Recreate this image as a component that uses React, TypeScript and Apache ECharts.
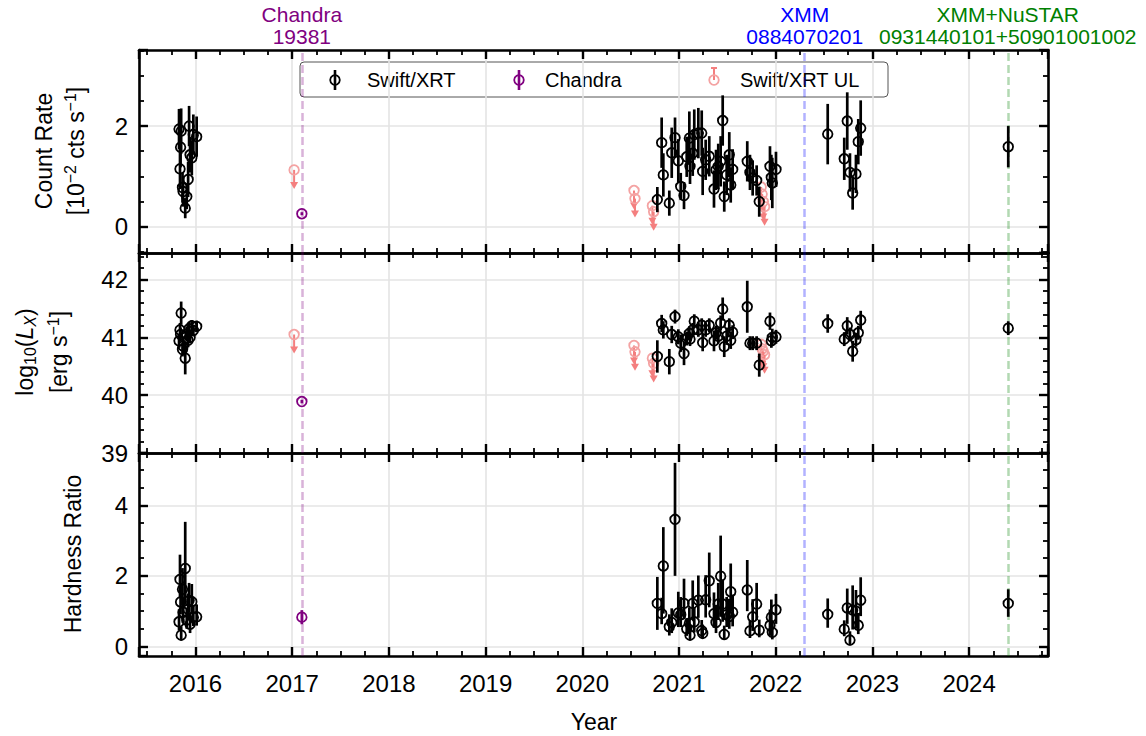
import React, { useEffect, useRef } from 'react';
import * as echarts from 'echarts';

const FONT = "'Liberation Sans', Arial, Helvetica, sans-serif";

// Time axis limits (decimal year)
const X_MIN = 2015.416;
const X_MAX = 2024.816;

// ---- Swift/XRT detections ----
const xrtTime = [
  2015.830, 2015.840, 2015.846, 2015.852, 2015.866, 2015.872, 2015.894, 2015.910, 2015.924, 2015.934,
  2015.944, 2015.962, 2015.978, 2016.012,
  2020.776, 2020.821, 2020.838, 2020.900, 2020.925, 2020.959, 2020.993, 2021.018, 2021.052, 2021.080,
  2021.107, 2021.114, 2021.142, 2021.158, 2021.200, 2021.235, 2021.245, 2021.276, 2021.313, 2021.362,
  2021.383, 2021.406, 2021.431, 2021.452, 2021.468, 2021.493, 2021.520, 2021.535, 2021.555, 2021.706,
  2021.734, 2021.762, 2021.803, 2021.830, 2021.941, 2021.955, 2021.965, 2022.003,
  2022.538, 2022.709, 2022.740, 2022.768, 2022.796, 2022.830, 2022.854, 2022.879, 2024.405,
];
// count rate [1e-2 cts/s]
const xrtRate = [
  1.94, 1.15, 1.58, 1.90, 0.78, 0.70, 0.37, 0.60, 0.94, 2.00, 1.43, 1.37, 1.83, 1.79,
  0.54, 1.67, 1.03, 0.47, 1.47, 1.77, 1.31, 0.80, 0.62, 1.39, 1.76, 1.20, 1.46, 1.83, 1.86, 1.86,
  1.10, 1.33, 1.40, 0.75, 1.13, 1.20, 1.30, 2.11, 0.60, 1.03, 1.43, 0.83, 1.14, 1.30, 1.08, 0.97,
  0.92, 0.50, 1.20, 0.98, 0.87, 1.14,
  1.84, 1.35, 2.10, 1.08, 0.67, 1.05, 1.69, 1.96, 1.59,
];
const xrtRateErr = [
  0.40, 0.40, 0.40, 0.45, 0.30, 0.30, 0.20, 0.25, 0.35, 0.40, 0.35, 0.35, 0.40, 0.40,
  0.25, 0.50, 0.43, 0.25, 0.50, 0.40, 0.43, 0.27, 0.27, 0.40, 0.53, 0.35, 0.45, 0.50, 0.50, 0.45,
  0.47, 0.40, 0.40, 0.37, 0.40, 0.45, 0.50, 0.50, 0.30, 0.40, 0.45, 0.35, 0.40, 0.40, 0.35, 0.35,
  0.30, 0.30, 0.40, 0.45, 0.50, 0.35,
  0.60, 0.42, 0.57, 0.38, 0.33, 0.38, 0.45, 0.55, 0.41,
];
// log10 of X-ray luminosity [erg/s]
const xrtLogL = [
  40.94, 41.13, 41.05, 41.42, 40.79, 40.85, 40.64, 41.06, 40.95, 41.15, 41.00, 41.20, 41.12, 41.19,
  40.67, 41.24, 41.13, 40.58, 41.05, 41.36, 41.01, 40.90, 40.72, 40.98, 41.07, 40.97, 41.13, 41.28,
  41.13, 41.21, 40.91, 41.13, 41.21, 40.94, 41.08, 41.02, 41.25, 41.49, 40.84, 41.02, 41.21, 40.95,
  41.09, 41.53, 40.90, 40.90, 40.90, 40.52, 41.28, 40.94, 41.00, 41.01,
  41.24, 40.97, 41.20, 41.05, 40.76, 40.96, 41.08, 41.30, 41.16,
];
const xrtLogLErr = [
  0.12, 0.12, 0.12, 0.20, 0.12, 0.12, 0.28, 0.12, 0.12, 0.12, 0.10, 0.10, 0.10, 0.10,
  0.28, 0.15, 0.15, 0.22, 0.15, 0.12, 0.13, 0.15, 0.20, 0.12, 0.12, 0.12, 0.12, 0.12,
  0.12, 0.12, 0.15, 0.12, 0.12, 0.18, 0.12, 0.12, 0.13, 0.20, 0.18, 0.15, 0.12, 0.15,
  0.12, 0.45, 0.12, 0.12, 0.12, 0.20, 0.15, 0.12, 0.15, 0.12,
  0.16, 0.12, 0.15, 0.12, 0.18, 0.12, 0.12, 0.16, 0.12,
];
// hardness ratio with asymmetric errors
const xrtHR = [
  0.70, 1.90, 1.26, 0.32, 1.62, 0.97, 2.21, 0.75, 1.05, 1.30, 0.63, 1.27, 0.83, 0.84,
  1.22, 0.93, 2.28, 0.56, 0.68, 3.60, 0.95, 0.90, 1.22, 0.50, 0.66, 0.32, 1.22, 0.70, 1.31, 0.45,
  0.37, 1.32, 1.86, 0.93, 0.68, 1.20, 1.99, 1.20, 0.34, 0.90, 0.85, 1.55, 0.97, 1.60, 0.44, 0.84,
  1.20, 0.46, 0.60, 0.83, 0.40, 1.04,
  0.91, 0.49, 1.09, 0.18, 1.03, 1.00, 0.60, 1.31, 1.22,
];
const xrtHRLo = [
  0.25, 0.50, 0.35, 0.15, 0.45, 0.30, 1.00, 0.25, 0.30, 0.35, 0.25, 0.35, 0.25, 0.25,
  0.75, 0.30, 1.35, 0.25, 0.30, 1.60, 0.40, 0.35, 0.45, 0.20, 0.30, 0.15, 0.45, 0.30, 0.50, 0.20,
  0.15, 0.50, 0.75, 0.40, 0.30, 0.45, 1.15, 0.50, 0.15, 0.35, 0.35, 0.55, 0.40, 0.60, 0.20, 0.40,
  0.45, 0.20, 0.30, 0.35, 0.20, 0.40,
  0.38, 0.20, 0.45, 0.15, 0.55, 0.50, 0.25, 0.45, 0.38,
];
const xrtHRHi = [
  0.35, 0.70, 0.50, 0.25, 0.60, 0.40, 1.32, 0.35, 0.45, 0.50, 0.30, 0.50, 0.35, 0.35,
  0.75, 0.45, 1.10, 0.35, 0.40, 1.60, 0.60, 0.50, 0.70, 0.30, 0.45, 0.25, 0.65, 0.40, 0.70, 0.30,
  0.25, 0.70, 0.80, 0.60, 0.50, 0.60, 1.15, 0.70, 0.25, 0.50, 0.50, 0.80, 0.50, 0.85, 0.30, 0.50,
  0.60, 0.30, 0.45, 0.50, 0.30, 0.45,
  0.45, 0.25, 0.55, 0.25, 0.70, 0.60, 0.35, 0.65, 0.40,
];

// ---- Swift/XRT upper limits ----
const ulTime = [2017.020, 2020.535, 2020.545, 2020.725, 2020.738, 2021.850, 2021.860, 2021.872, 2021.885];
const ulRate = [1.13, 0.72, 0.56, 0.42, 0.30, 0.79, 0.65, 0.50, 0.40];
const ulLogL = [41.05, 40.86, 40.75, 40.64, 40.55, 40.88, 40.80, 40.76, 40.70];

// ---- Chandra ----
const chandraTime = [2017.10];
const chandraRate = [0.26];
const chandraRateErr = [0.03];
const chandraLogL = [39.89];
const chandraLogLErr = [0.03];
const chandraHR = [0.83];
const chandraHRErr = [0.2];

// ---- Pointed observations marked by vertical lines ----
const obsTime = [2017.10, 2022.30, 2024.405];
const obsLabel = ['Chandra\n19381', 'XMM\n0884070201', 'XMM+NuSTAR\n0931440101+50901001002'];
const obsTextColor = ['#800080', '#0000ff', '#008000'];
const obsLineColor = ['rgba(128,0,128,0.3)', 'rgba(0,0,255,0.3)', 'rgba(0,128,0,0.3)'];

// Legend entries
const legendNames = ['Swift/XRT', 'Chandra', 'Swift/XRT UL'];

// Panel layout and y scales
const panels = [
  { top: 50, height: 203, min: -0.52, max: 3.51, major: 2, minor: 0.5 },
  { top: 253, height: 200, min: 39, max: 42.46, major: 1, minor: 0.2 },
  { top: 453, height: 203, min: -0.27, max: 5.48, major: 2, minor: 0.5 },
];

const UL_CIRCLE = '#f4a3a3';
const UL_ARROW = '#f47f7f';
const TICK_FONT = 24;
const TITLE_FONT = 23;

const symRows = (t: number[], v: number[], e: number[]) => t.map((x, i) => [x, v[i], v[i] - e[i], v[i] + e[i]]);
const asymRows = (t: number[], v: number[], lo: number[], hi: number[]) =>
  t.map((x, i) => [x, v[i], v[i] - lo[i], v[i] + hi[i]]);

const labelFmt = (step: number) => (v: number) =>
  Math.abs(v / step - Math.round(v / step)) < 1e-6 ? String(Math.round(v)) : '';

function errorBarItem(color: string) {
  return (_params: any, api: any) => {
    const x = api.value(0);
    const c = api.coord([x, api.value(1)]);
    const a = api.coord([x, api.value(2)]);
    const b = api.coord([x, api.value(3)]);
    return {
      type: 'group',
      children: [
        { type: 'line', shape: { x1: c[0], y1: a[1], x2: c[0], y2: b[1] }, style: { stroke: color, lineWidth: 2.7 } },
        { type: 'circle', shape: { cx: c[0], cy: c[1], r: 4.8 }, style: { fill: 'none', stroke: color, lineWidth: 1.8 } },
      ],
    };
  };
}

function upperLimitItem(_params: any, api: any) {
  const c = api.coord([api.value(0), api.value(1)]);
  const tip = c[1] + 19;
  return {
    type: 'group',
    children: [
      { type: 'line', shape: { x1: c[0], y1: c[1], x2: c[0], y2: tip - 5 }, style: { stroke: UL_ARROW, lineWidth: 2 } },
      { type: 'polygon', shape: { points: [[c[0] - 4, tip - 7], [c[0] + 4, tip - 7], [c[0], tip]] }, style: { fill: UL_ARROW } },
      { type: 'circle', shape: { cx: c[0], cy: c[1], r: 4.8 }, style: { fill: 'none', stroke: UL_CIRCLE, lineWidth: 1.8 } },
    ],
  };
}

function xAxesFor(g: number) {
  const base = { type: 'value', gridIndex: g, min: X_MIN, max: X_MAX };
  const major = (pos: string, labels: boolean, split: boolean) => ({
    ...base,
    position: pos,
    minInterval: 1,
    maxInterval: 1,
    splitNumber: 9,
    axisLine: { show: true, onZero: false, lineStyle: { color: '#000', width: 2.6 } },
    axisTick: { show: true, inside: true, length: 9, lineStyle: { color: '#000', width: 2.4 } },
    axisLabel: { show: labels, formatter: labelFmt(1), fontSize: TICK_FONT, color: '#000', fontFamily: FONT, margin: 15 },
    splitLine: { show: split, lineStyle: { color: '#e4e4e4', width: 1.6 } },
  });
  const minor = (pos: string) => ({
    ...base,
    position: pos,
    minInterval: 0.25,
    maxInterval: 0.25,
    splitNumber: 40,
    axisLine: { show: false, onZero: false },
    axisTick: { show: true, inside: true, length: 5, lineStyle: { color: '#000', width: 1.8 } },
    axisLabel: { show: false },
    splitLine: { show: false },
  });
  return [major('bottom', g === 2, true), minor('bottom'), major('top', false, false), minor('top')];
}

function yAxesFor(g: number) {
  const p = panels[g];
  const base = { type: 'value', gridIndex: g, min: p.min, max: p.max };
  const major = (pos: string, labels: boolean, split: boolean) => ({
    ...base,
    position: pos,
    minInterval: p.major,
    maxInterval: p.major,
    splitNumber: 3,
    axisLine: { show: true, onZero: false, lineStyle: { color: '#000', width: 2.6 } },
    axisTick: { show: true, inside: true, length: 9, lineStyle: { color: '#000', width: 2.4 } },
    axisLabel: { show: labels, formatter: labelFmt(p.major), fontSize: TICK_FONT, color: '#000', fontFamily: FONT, margin: 11 },
    splitLine: { show: split, lineStyle: { color: '#e4e4e4', width: 1.6 } },
  });
  const minor = (pos: string) => ({
    ...base,
    position: pos,
    minInterval: p.minor,
    maxInterval: p.minor,
    splitNumber: 20,
    axisLine: { show: false, onZero: false },
    axisTick: { show: true, inside: true, length: 5, lineStyle: { color: '#000', width: 1.8 } },
    axisLabel: { show: false },
    splitLine: { show: false },
  });
  return [major('left', true, true), minor('left'), major('right', false, false), minor('right')];
}

function buildOption() {
  const grids = panels.map((p) => ({ left: 139, right: 98, top: p.top, height: p.height, containLabel: false }));
  const xAxis: any[] = [];
  const yAxis: any[] = [];
  panels.forEach((_p, g) => {
    xAxis.push(...xAxesFor(g));
    yAxis.push(...yAxesFor(g));
  });

  const series: any[] = [];
  const swiftRows = [
    symRows(xrtTime, xrtRate, xrtRateErr),
    symRows(xrtTime, xrtLogL, xrtLogLErr),
    asymRows(xrtTime, xrtHR, xrtHRLo, xrtHRHi),
  ];
  const chandraRows = [
    symRows(chandraTime, chandraRate, chandraRateErr),
    symRows(chandraTime, chandraLogL, chandraLogLErr),
    symRows(chandraTime, chandraHR, chandraHRErr),
  ];
  const ulRows = [ulTime.map((t, i) => [t, ulRate[i]]), ulTime.map((t, i) => [t, ulLogL[i]]), null];

  panels.forEach((_p, g) => {
    const axes = { xAxisIndex: g * 4, yAxisIndex: g * 4 };
    // observation markers
    series.push({
      type: 'line',
      ...axes,
      data: [],
      silent: true,
      markLine: {
        silent: true,
        symbol: ['none', 'none'],
        animation: false,
        data: obsTime.map((t, i) => ({
          xAxis: t,
          lineStyle: { color: obsLineColor[i], type: [8, 4], width: 2.5 },
          label: {
            show: g === 0,
            position: 'end',
            formatter: obsLabel[i],
            color: obsTextColor[i],
            fontSize: 21,
            lineHeight: 22,
            fontFamily: FONT,
            distance: 3,
          },
        })),
      },
    });
    const ul = ulRows[g];
    if (ul) {
      series.push({ type: 'custom', name: 'Swift/XRT UL', ...axes, clip: true, encode: { x: 0, y: 1 }, renderItem: upperLimitItem, data: ul, z: 3 });
    }
    series.push({ type: 'custom', name: 'Chandra', ...axes, clip: true, encode: { x: 0, y: 1 }, renderItem: errorBarItem('#800080'), data: chandraRows[g], z: 4 });
    series.push({ type: 'custom', name: 'Swift/XRT', ...axes, clip: true, encode: { x: 0, y: 1 }, renderItem: errorBarItem('#000'), data: swiftRows[g], z: 5 });
  });

  const titleStyle = { fontSize: TITLE_FONT, fontFamily: FONT, fill: '#000', align: 'center', verticalAlign: 'middle' };
  const rot = Math.PI / 2;

  const legendX = [335, 519, 714];
  const legendTextX = [367, 545, 740];
  const legendColor = ['#000', '#800080', UL_CIRCLE];
  const ly = 80;
  const legendChildren: any[] = [
    { type: 'rect', shape: { x: 300, y: 62, width: 588, height: 35, r: 4 }, style: { fill: 'rgba(255,255,255,0.85)', stroke: '#555', lineWidth: 1 } },
  ];
  legendNames.forEach((name, i) => {
    const cx = legendX[i];
    if (i < 2) {
      legendChildren.push({ type: 'line', shape: { x1: cx, y1: ly - 10, x2: cx, y2: ly + 10 }, style: { stroke: legendColor[i], lineWidth: 2.6 } });
    } else {
      legendChildren.push({ type: 'line', shape: { x1: cx, y1: ly, x2: cx, y2: ly - 12 }, style: { stroke: UL_ARROW, lineWidth: 2 } });
      legendChildren.push({ type: 'line', shape: { x1: cx - 3, y1: ly - 12, x2: cx + 3, y2: ly - 12 }, style: { stroke: UL_ARROW, lineWidth: 2 } });
    }
    legendChildren.push({ type: 'circle', shape: { cx, cy: ly, r: 4.8 }, style: { fill: 'none', stroke: legendColor[i], lineWidth: 1.8 } });
    legendChildren.push({ type: 'text', x: legendTextX[i], y: ly, style: { text: name, fontSize: 20, fontFamily: FONT, fill: '#000', align: 'left', verticalAlign: 'middle' } });
  });

  const graphic: any[] = [
    { type: 'group', children: legendChildren, z: 10 },
    { type: 'text', x: 44, y: 151, rotation: rot, style: { ...titleStyle, text: 'Count Rate' } },
    {
      type: 'text', x: 76, y: 151, rotation: rot,
      style: { ...titleStyle, text: '[10{sup|\u22122} cts s{sup|\u22121}]', rich: { sup: { fontSize: 16, fontFamily: FONT, padding: [0, 0, 12, 0] } } },
    },
    {
      type: 'text', x: 25, y: 352, rotation: rot,
      style: {
        ...titleStyle,
        text: 'log{sub|10}({it|L}{isub|X})',
        rich: {
          sub: { fontSize: 16, fontFamily: FONT, padding: [11, 0, 0, 0] },
          it: { fontSize: TITLE_FONT, fontFamily: FONT, fontStyle: 'italic' },
          isub: { fontSize: 16, fontFamily: FONT, fontStyle: 'italic', padding: [11, 0, 0, 0] },
        },
      },
    },
    {
      type: 'text', x: 59, y: 352, rotation: rot,
      style: { ...titleStyle, text: '[erg s{sup|\u22121}]', rich: { sup: { fontSize: 16, fontFamily: FONT, padding: [0, 0, 12, 0] } } },
    },
    { type: 'text', x: 73, y: 554, rotation: rot, style: { ...titleStyle, text: 'Hardness Ratio' } },
    { type: 'text', x: 594, y: 722, style: { ...titleStyle, text: 'Year' } },
  ];

  return {
    animation: false,
    backgroundColor: '#fff',
    textStyle: { fontFamily: FONT },
    grid: grids,
    xAxis,
    yAxis,
    series,
    graphic,
  };
}

export default function App() {
  const ref = useRef<HTMLDivElement>(null);
  useEffect(() => {
    if (!ref.current) return;
    const chart = echarts.init(ref.current, undefined, { renderer: 'svg' });
    chart.setOption(buildOption() as any);
    return () => chart.dispose();
  }, []);
  return <div ref={ref} style={{ position: 'fixed', left: 0, top: 0, width: 1146, height: 736, background: '#fff' }} />;
}
